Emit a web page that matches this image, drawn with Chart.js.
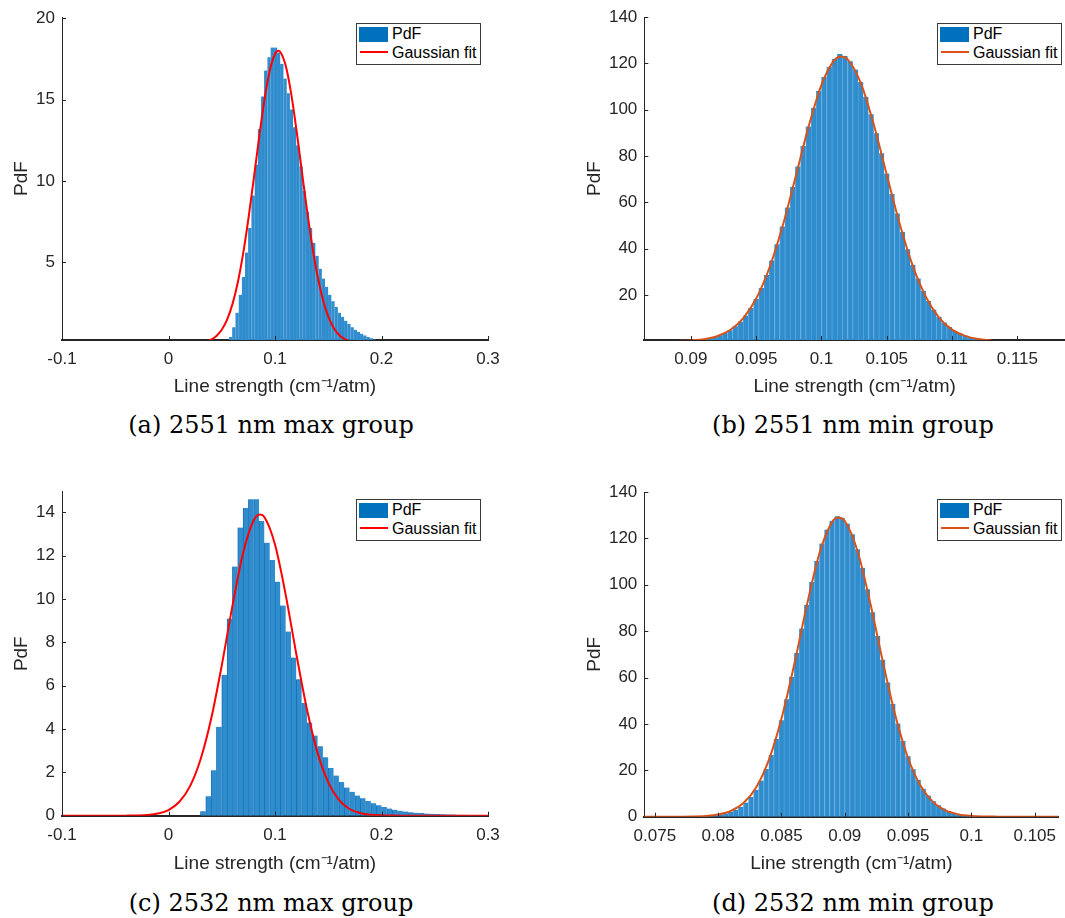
<!DOCTYPE html>
<html>
<head>
<meta charset="utf-8">
<title>Line strength PdF</title>
<script src="https://cdn.jsdelivr.net/npm/chart.js@4.4.1/dist/chart.umd.min.js"></script>
<style>
  body { margin: 0; background: #fff; width: 1065px; height: 918px; position: relative; overflow: hidden; }
  canvas { position: absolute; }
  .legend { position: absolute; width: 123px; height: 40px; border: 1px solid #3a3a3a; background: #fff;
            font: 16px "Liberation Sans", Arial, sans-serif; color: #000; }
  .legend .patch { position: absolute; left: 2px; top: 3px; width: 29px; height: 15px; background: #0072bd; }
  .legend .fitline { position: absolute; left: 3px; top: 27px; width: 28px; height: 2px; }
  .legend .t1, .legend .t2 { position: absolute; left: 35px; line-height: 20px; white-space: nowrap; }
  .legend .t1 { top: 0; }
  .legend .t2 { top: 19px; }
  .caption { position: absolute; font: 24px "DejaVu Serif", serif; color: #000;
             transform: translate(-50%, -50%); white-space: nowrap; }
</style>
</head>
<body>
<canvas id="chartA" width="510" height="400" style="left:0;top:0"></canvas>
<canvas id="chartB" width="495" height="400" style="left:570px;top:0"></canvas>
<canvas id="chartC" width="510" height="406" style="left:0;top:470px"></canvas>
<canvas id="chartD" width="495" height="407" style="left:570px;top:470px"></canvas>

<div class="legend" style="left:356px;top:23px">
  <div class="patch"></div><div class="t1">PdF</div>
  <div class="fitline" style="background:#ff0000"></div><div class="t2">Gaussian fit</div>
</div>
<div class="legend" style="left:937px;top:23px">
  <div class="patch"></div><div class="t1">PdF</div>
  <div class="fitline" style="background:#d95319"></div><div class="t2">Gaussian fit</div>
</div>
<div class="legend" style="left:356px;top:499px">
  <div class="patch"></div><div class="t1">PdF</div>
  <div class="fitline" style="background:#ff0000"></div><div class="t2">Gaussian fit</div>
</div>
<div class="legend" style="left:937px;top:499px">
  <div class="patch"></div><div class="t1">PdF</div>
  <div class="fitline" style="background:#d95319"></div><div class="t2">Gaussian fit</div>
</div>

<div class="caption" style="left:271px;top:425px">(a) 2551 nm max group</div>
<div class="caption" style="left:853px;top:425px">(b) 2551 nm min group</div>
<div class="caption" style="left:271px;top:903px">(c) 2532 nm max group</div>
<div class="caption" style="left:853px;top:903px">(d) 2532 nm min group</div>

<script>
// (a) 2551 nm max group
const binsA = [0.0585, 0.0615, 0.0645, 0.0675, 0.0705, 0.0735, 0.0765, 0.0795, 0.0825, 0.0855,
  0.0885, 0.0915, 0.0945, 0.0975, 0.1005, 0.1035, 0.1065, 0.1095, 0.1125, 0.1155,
  0.1185, 0.1215, 0.1245, 0.1275, 0.1305, 0.1335, 0.1365, 0.1395, 0.1425, 0.1455,
  0.1485, 0.1515, 0.1545, 0.1575, 0.1605, 0.1635, 0.1665, 0.1695, 0.1725, 0.1755,
  0.1785, 0.1815, 0.1845, 0.1875, 0.1905, 0.1935, 0.1965];
const pdfA = [0.4, 1.0, 1.9, 3.0, 4.1, 5.6, 7.1, 9.1, 11.0, 13.2,
  15.2, 16.8, 17.6, 18.2, 18.2, 17.9, 17.2, 16.3, 15.4, 14.4,
  13.3, 12.2, 10.9, 9.4, 8.1, 7.1, 6.2, 5.4, 4.6, 4.0,
  3.5, 3.0, 2.6, 2.25, 1.9, 1.65, 1.4, 1.2, 1.0, 0.85,
  0.72, 0.6, 0.5, 0.4, 0.32, 0.25, 0.2];
const fitXA = [0.035, 0.04, 0.045, 0.05, 0.055, 0.06, 0.065, 0.07, 0.075, 0.08,
  0.085, 0.09, 0.095, 0.1, 0.1031, 0.105, 0.11, 0.115, 0.12, 0.125,
  0.13, 0.135, 0.14, 0.145, 0.15, 0.155, 0.16, 0.165, 0.17];
const fitYA = [0.12, 0.24, 0.47, 0.85, 1.47, 2.41, 3.74, 5.5, 7.66, 10.11,
  12.63, 14.96, 16.76, 17.81, 18.0, 17.93, 17.1, 15.45, 13.21, 10.71,
  8.23, 5.99, 4.13, 2.7, 1.67, 0.98, 0.54, 0.29, 0.14];

// (b) 2551 nm min group
const binsB = [0.0906, 0.0910, 0.0914, 0.0918, 0.0922, 0.0926, 0.0930, 0.0934, 0.0938, 0.0942,
  0.0946, 0.0950, 0.0954, 0.0958, 0.0962, 0.0966, 0.0970, 0.0974, 0.0978, 0.0982,
  0.0986, 0.0990, 0.0994, 0.0998, 0.1002, 0.1006, 0.1010, 0.1014, 0.1018, 0.1022,
  0.1026, 0.1030, 0.1034, 0.1038, 0.1042, 0.1046, 0.1050, 0.1054, 0.1058, 0.1062,
  0.1066, 0.1070, 0.1074, 0.1078, 0.1082, 0.1086, 0.1090, 0.1094, 0.1098, 0.1102,
  0.1106, 0.1110, 0.1114, 0.1118, 0.1122];
const pdfB = [0.6, 0.9, 1.3, 1.8, 2.5, 3.5, 4.7, 6.4, 8.5, 11.1,
  14.3, 18.2, 23.0, 28.6, 34.9, 41.9, 49.6, 57.8, 66.6, 75.5,
  84.3, 92.8, 100.9, 108.2, 114.2, 118.6, 122.0, 124.1, 123.2, 121.0,
  117.4, 112.0, 105.6, 98.1, 89.9, 81.2, 72.4, 63.6, 55.2, 47.2,
  39.7, 33.0, 27.1, 21.8, 17.4, 13.7, 10.6, 8.1, 6.1, 4.5,
  3.3, 2.4, 1.7, 1.2, 0.8];
const fitXB = [0.089, 0.090, 0.091, 0.092, 0.093, 0.094, 0.095, 0.096, 0.097, 0.098,
  0.099, 0.100, 0.101, 0.1015, 0.102, 0.103, 0.104, 0.105, 0.106, 0.107,
  0.108, 0.109, 0.110, 0.111, 0.112, 0.113];
const fitYB = [0.11, 0.33, 0.88, 2.15, 4.81, 9.84, 18.4, 31.5, 49.3, 70.6,
  92.5, 110.8, 121.5, 123.0, 121.8, 111.7, 93.7, 71.9, 50.5, 32.4,
  19.1, 10.2, 5.0, 2.3, 0.93, 0.35];

// (c) 2532 nm max group
const binsC = [0.0325, 0.0375, 0.0425, 0.0475, 0.0525, 0.0575, 0.0625, 0.0675, 0.0725, 0.0775,
  0.0825, 0.0875, 0.0925, 0.0975, 0.1025, 0.1075, 0.1125, 0.1175, 0.1225, 0.1275,
  0.1325, 0.1375, 0.1425, 0.1475, 0.1525, 0.1575, 0.1625, 0.1675, 0.1725, 0.1775,
  0.1825, 0.1875, 0.1925, 0.1975, 0.2025, 0.2075, 0.2125, 0.2175, 0.2225, 0.2275,
  0.2325, 0.2375, 0.2425, 0.2475, 0.2525, 0.2575, 0.2625, 0.2675, 0.2725, 0.2775,
  0.2825, 0.2875, 0.2925, 0.2975];
const pdfC = [0.2, 0.9, 2.1, 4.1, 6.5, 9.1, 11.5, 13.3, 14.2, 14.6,
  14.6, 13.6, 12.6, 11.8, 10.8, 9.7, 8.5, 7.3, 6.3, 5.2,
  4.3, 3.7, 3.2, 2.7, 2.2, 1.85, 1.55, 1.3, 1.1, 0.93,
  0.8, 0.68, 0.57, 0.48, 0.4, 0.33, 0.28, 0.23, 0.19, 0.16,
  0.14, 0.12, 0.1, 0.09, 0.08, 0.07, 0.06, 0.05, 0.045, 0.04,
  0.035, 0.03, 0.025, 0.02];
const fitXC = [-0.1, -0.09, -0.08, -0.07, -0.06, -0.05, -0.04, -0.03, -0.02, -0.01,
  0, 0.01, 0.02, 0.03, 0.04, 0.05, 0.06, 0.07, 0.08, 0.086,
  0.09, 0.1, 0.11, 0.12, 0.13, 0.14, 0.15, 0.16, 0.17, 0.18,
  0.19, 0.2, 0.21, 0.22, 0.23, 0.24, 0.25, 0.26, 0.27, 0.28,
  0.29, 0.3];
const fitYC = [0, 0, 0, 0, 0.0001, 0.0007, 0.003, 0.01, 0.033, 0.098,
  0.26, 0.63, 1.34, 2.58, 4.46, 6.93, 9.67, 12.11, 13.63, 13.9,
  13.78, 12.51, 10.2, 7.46, 4.91, 2.9, 1.54, 0.73, 0.31, 0.12,
  0.041, 0.013, 0.004, 0.001, 0, 0, 0, 0, 0, 0,
  0, 0];

// (d) 2532 nm min group
const binsD = [0.0786, 0.0790, 0.0794, 0.0798, 0.0802, 0.0806, 0.0810, 0.0814, 0.0818, 0.0822,
  0.0826, 0.0830, 0.0834, 0.0838, 0.0842, 0.0846, 0.0850, 0.0854, 0.0858, 0.0862,
  0.0866, 0.0870, 0.0874, 0.0878, 0.0882, 0.0886, 0.0890, 0.0894, 0.0898, 0.0902,
  0.0906, 0.0910, 0.0914, 0.0918, 0.0922, 0.0926, 0.0930, 0.0934, 0.0938, 0.0942,
  0.0946, 0.0950, 0.0954, 0.0958, 0.0962, 0.0966, 0.0970, 0.0974, 0.0978, 0.0982,
  0.0986, 0.0990, 0.0994, 0.0998, 0.1002];
const pdfD = [0.15, 0.25, 0.4, 0.6, 0.95, 1.4, 2.1, 3.0, 4.3, 6.1,
  8.5, 11.6, 15.6, 20.6, 26.6, 33.6, 41.6, 50.6, 60.3, 70.6,
  81.1, 91.4, 101.2, 110.2, 117.8, 123.8, 127.6, 129.5, 128.9, 126.4,
  121.8, 115.3, 107.3, 98.1, 88.2, 77.9, 67.7, 57.9, 48.6, 40.2,
  32.6, 26.1, 20.5, 15.9, 12.1, 9.1, 6.7, 4.9, 3.5, 2.45,
  1.7, 1.15, 0.75, 0.5, 0.3];
const fitXD = [0.074, 0.075, 0.076, 0.077, 0.078, 0.079, 0.080, 0.081, 0.082, 0.083,
  0.084, 0.085, 0.086, 0.087, 0.088, 0.089, 0.0895, 0.090, 0.091, 0.092,
  0.093, 0.094, 0.095, 0.096, 0.097, 0.098, 0.099, 0.100, 0.101, 0.102,
  0.103, 0.104, 0.105, 0.106, 0.107];
const fitYD = [0.0003, 0.0013, 0.006, 0.025, 0.09, 0.31, 0.92, 2.45, 5.9, 12.6,
  24.4, 42.2, 65.4, 91.0, 113.6, 127.0, 129.0, 127.5, 114.7, 92.5,
  67.0, 43.5, 25.3, 13.2, 6.18, 2.59, 0.98, 0.33, 0.1, 0.027,
  0.007, 0.0015, 0, 0, 0];

// tick labels
const xTicksMax = [-0.1, 0, 0.1, 0.2, 0.3];
const yTicksA = [5, 10, 15, 20];
const xTicksB = [0.09, 0.095, 0.1, 0.105, 0.11, 0.115];
const yTicksB = [20, 40, 60, 80, 100, 120, 140];
const yTicksC = [0, 2, 4, 6, 8, 10, 12, 14];
const xTicksD = [0.075, 0.08, 0.085, 0.09, 0.095, 0.1, 0.105];
const yTicksD = [0, 20, 40, 60, 80, 100, 120, 140];

const AXIS = '#262626';
Chart.defaults.font.family = '"Liberation Sans", Arial, Helvetica, sans-serif';
Chart.defaults.font.size = 17;
Chart.defaults.color = AXIS;
Chart.defaults.animation = false;

// MATLAB style: tick marks point into the axes
const innerTicks = {
  id: 'innerTicks',
  afterDatasetsDraw(chart) {
    const { ctx, chartArea: a, scales: { x, y } } = chart;
    ctx.save();
    ctx.strokeStyle = AXIS;
    ctx.lineWidth = 1;
    ctx.beginPath();
    x.ticks.forEach(t => {
      const px = Math.round(x.getPixelForValue(t.value)) + 0.5;
      ctx.moveTo(px, a.bottom);
      ctx.lineTo(px, a.bottom - 4);
    });
    y.ticks.forEach(t => {
      const py = Math.round(y.getPixelForValue(t.value)) + 0.5;
      ctx.moveTo(a.left, py);
      ctx.lineTo(a.left + 4, py);
    });
    ctx.stroke();
    ctx.restore();
  }
};

const pairs = (xs, ys) => xs.map((x, i) => ({ x, y: ys[i] }));
const fmt = v => String(Number(v.toFixed(4)));

function histChart(id, p) {
  new Chart(document.getElementById(id), {
    type: 'bar',
    data: {
      datasets: [
        {
          type: 'line',
          label: 'Gaussian fit',
          data: pairs(p.fitX, p.fitY),
          borderColor: p.fitColor,
          borderWidth: 2,
          pointRadius: 0,
          cubicInterpolationMode: 'monotone',
          order: 0
        },
        {
          label: 'PdF',
          data: pairs(p.bins, p.pdf),
          backgroundColor: '#2f8ccd',
          borderColor: p.edge,
          borderWidth: { left: 1, right: 0, top: 0, bottom: 0 },
          barPercentage: 1,
          categoryPercentage: 1,
          order: 1
        }
      ]
    },
    options: {
      responsive: false,
      devicePixelRatio: 1,
      layout: { padding: { top: p.top, right: p.right, left: 0, bottom: 0 } },
      plugins: { legend: { display: false }, tooltip: { enabled: false } },
      scales: {
        x: {
          type: 'linear',
          offset: false,
          min: p.xMin,
          max: p.xMax,
          afterBuildTicks: s => { s.ticks = p.xTicks.map(v => ({ value: v })); },
          afterFit: s => { s.height = p.xH; },
          grid: { display: false, drawTicks: false },
          border: { display: true, color: AXIS, width: 2 },
          ticks: { padding: 9, maxRotation: 0, autoSkip: false, callback: v => fmt(v) },
          title: { display: true, text: 'Line strength (cm⁻¹/atm)', font: { size: 19 },
                   padding: { top: 0, bottom: p.xTitlePad } }
        },
        y: {
          type: 'linear',
          min: p.yMin,
          max: p.yMax,
          afterBuildTicks: s => { s.ticks = p.yTicks.map(v => ({ value: v })); },
          afterFit: s => { s.width = p.yW; },
          grid: { display: false, drawTicks: false },
          border: { display: true, color: AXIS, width: 1 },
          ticks: { padding: 7, autoSkip: false, callback: v => fmt(v) },
          title: { display: true, text: 'PdF', font: { size: 19 },
                   padding: { top: p.yTitlePad, bottom: 0 } }
        }
      }
    },
    plugins: [innerTicks]
  });
}

histChart('chartA', {
  bins: binsA, pdf: pdfA, fitX: fitXA, fitY: fitYA, fitColor: '#ff0000', edge: '#3f93d0',
  xMin: -0.1, xMax: 0.3, xTicks: xTicksMax, yMin: 0.22, yMax: 20.07, yTicks: yTicksA,
  top: 17, right: 22, yW: 62, xH: 60, yTitlePad: 10.3, xTitlePad: 1.9
});
histChart('chartB', {
  bins: binsB, pdf: pdfB, fitX: fitXB, fitY: fitYB, fitColor: '#d95319', edge: '#52a1da',
  xMin: 0.08643, xMax: 0.11865, xTicks: xTicksB, yMin: 0.5, yMax: 140, yTicks: yTicksB,
  top: 16, right: 0, yW: 74.3, xH: 60, yTitlePad: 13.6, xTitlePad: 1.9
});
histChart('chartC', {
  bins: binsC, pdf: pdfC, fitX: fitXC, fitY: fitYC, fitColor: '#ff0000', edge: '#1c72b8',
  xMin: -0.1, xMax: 0.3, xTicks: xTicksMax, yMin: 0, yMax: 14.95, yTicks: yTicksC,
  top: 21.7, right: 22, yW: 62, xH: 60.3, yTitlePad: 10.3, xTitlePad: 1.3
});
histChart('chartD', {
  bins: binsD, pdf: pdfD, fitX: fitXD, fitY: fitYD, fitColor: '#d95319', edge: '#52a1da',
  xMin: 0.07417, xMax: 0.10687, xTicks: xTicksD, yMin: 0, yMax: 140, yTicks: yTicksD,
  top: 22, right: 0, yW: 74.3, xH: 60.3, yTitlePad: 13.6, xTitlePad: 2.3
});
</script>
</body>
</html>
